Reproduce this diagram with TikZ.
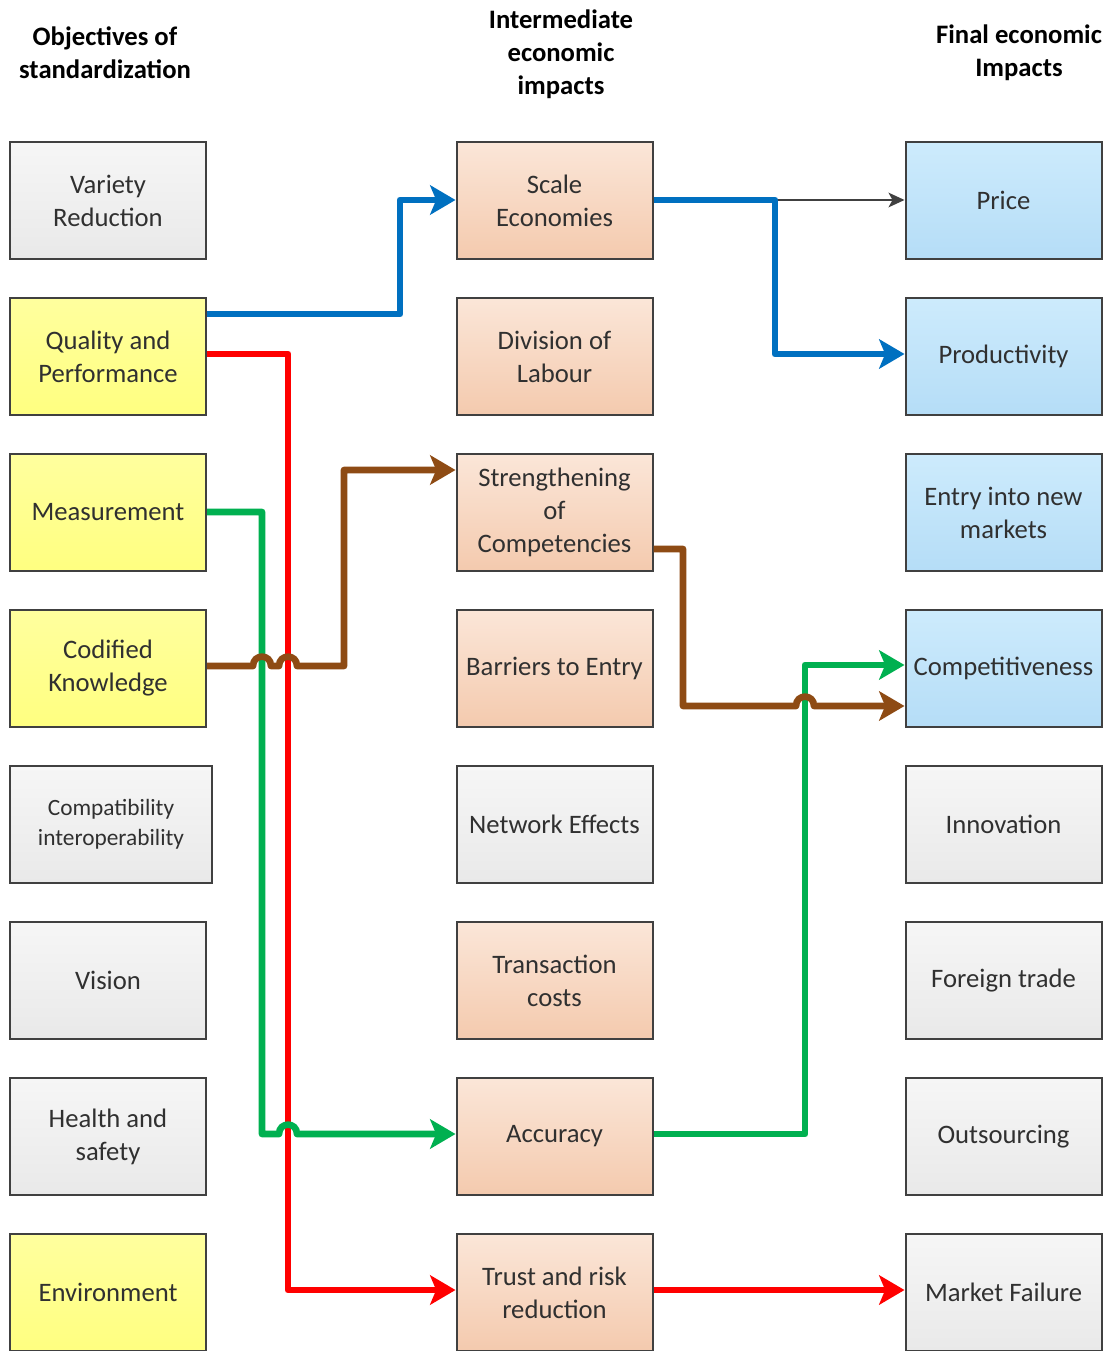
\documentclass[tikz,border=0pt]{standalone}
\usepackage{fontspec}
\setmainfont{Carlito}
\usetikzlibrary{arrows.meta,calc}
\definecolor{bord}{HTML}{404040}
\definecolor{txt}{HTML}{303030}
\definecolor{gtop}{HTML}{F6F6F6}
\definecolor{gbot}{HTML}{E9E9E9}
\definecolor{ytop}{HTML}{FFFF9E}
\definecolor{ybot}{HTML}{FFFF80}
\definecolor{ptop}{HTML}{FBE6D8}
\definecolor{pbot}{HTML}{F4CAAE}
\definecolor{btop}{HTML}{CDEBFC}
\definecolor{bbot}{HTML}{B5DDF7}
\definecolor{lblue}{HTML}{0070C0}
\definecolor{lred}{HTML}{FF0000}
\definecolor{lgreen}{HTML}{00B050}
\definecolor{lbrown}{HTML}{8E4B14}
\begin{document}
\begin{tikzpicture}[x=0.75pt,y=-0.75pt,
  box/.style={draw=bord, line width=1.5pt, minimum width=147pt, minimum height=87.75pt,
    inner sep=0pt, align=center, text=txt, font=\fontsize{20}{24.75}\selectfont},
  graybox/.style={box, top color=gtop, bottom color=gbot},
  yelbox/.style={box, top color=ytop, bottom color=ybot},
  peachbox/.style={box, top color=ptop, bottom color=pbot},
  bluebox/.style={box, top color=btop, bottom color=bbot},
  head/.style={align=center, text=black, font=\bfseries\fontsize{20}{24.75}\selectfont},
  conn/.style={line width=5pt, line join=round, -{Stealth[length=19pt, width=22pt, inset=4.5pt]}},
  connb/.style={conn, draw=lblue},
  connr/.style={conn, draw=lred},
  conng/.style={conn, draw=lgreen},
  connbr/.style={conn, draw=lbrown},
]
\useasboundingbox[fill=white] (0,0) rectangle (1117,1351);

% headers
\node[head] (h1) at (105,53) {Objectives of\\standardization};
\node[head] (h2) at (561,54) {Intermediate\\economic\\impacts};
\node[head] (h3) at (1019,53) {Final economic\\Impacts};

% left column
\node[graybox] (var)  at (108,200.5) {Variety\\Reduction};
\node[yelbox]  (qual) at (108,356.5) {Quality and\\Performance};
\node[yelbox]  (meas) at (108,512.5) {Measurement};
\node[yelbox]  (codk) at (108,668.5) {Codified\\Knowledge};
\node[graybox, minimum width=151.5pt, font=\fontsize{17.5}{22.5}\selectfont] (comp1) at (111,824.5) {Compatibility\\interoperability};
\node[graybox] (vis)  at (108,980.5) {Vision};
\node[graybox] (hs)   at (108,1136.5) {Health and\\safety};
\node[yelbox]  (env)  at (108,1292.5) {Environment};

% middle column
\node[peachbox] (scale)  at (554.5,200.5) {Scale\\Economies};
\node[peachbox] (div)    at (554.5,356.5) {Division of\\Labour};
\node[peachbox] (str)    at (554.5,512.5) {Strengthening\\of\\Competencies};
\node[peachbox] (bar)    at (554.5,668.5) {Barriers to Entry};
\node[graybox]  (net)    at (554.5,824.5) {Network Effects};
\node[peachbox] (trans)  at (554.5,980.5) {Transaction\\costs};
\node[peachbox] (acc)    at (554.5,1136.5) {Accuracy};
\node[peachbox] (trust)  at (554.5,1292.5) {Trust and risk\\reduction};

% right column
\node[bluebox] (price) at (1003.5,200.5) {Price};
\node[bluebox] (prod)  at (1003.5,356.5) {Productivity};
\node[bluebox] (entry) at (1003.5,512.5) {Entry into new\\markets};
\node[bluebox] (compt) at (1003.5,668.5) {Competitiveness};
\node[graybox] (innov) at (1003.5,824.5) {Innovation};
\node[graybox] (fore)  at (1003.5,980.5) {Foreign trade};
\node[graybox] (outs)  at (1003.5,1136.5) {Outsourcing};
\node[graybox] (mkt)   at (1003.5,1292.5) {Market Failure};

% connectors
\coordinate (split) at (775,200);
\draw[draw=bord, line width=1.3pt, -{Stealth[length=12pt, width=11pt, inset=3pt]}] (split) -- (price.west |- 0,200);
\draw[connb] (qual.east |- 0,314) -- (400,314) -- (400,200) -- (scale.west |- 0,200);
\draw[connb] (scale.east |- 0,200) -- (775,200) -- (775,354) -- (prod.west |- 0,354);

\draw[connr] (qual.east |- 0,354) -- (288,354) -- (288,1290) -- (trust.west |- 0,1290);
\draw[connr] (trust.east |- 0,1290) -- (mkt.west |- 0,1290);

\draw[conng] (meas.east |- 0,512) -- (262,512) -- (262,1134) -- (279,1134)
  .. controls (279,1121.5) and (297,1121.5) .. (297,1134) -- (acc.west |- 0,1134);
\draw[conng] (acc.east |- 0,1134) -- (805,1134) -- (805,665) -- (compt.west |- 0,665);

\draw[connbr] (codk.east |- 0,666) -- (253,666)
  .. controls (253,653.5) and (271,653.5) .. (271,666) -- (279,666)
  .. controls (279,653.5) and (297,653.5) .. (297,666) -- (344,666) -- (344,470) -- (str.west |- 0,470);
\draw[connbr] (str.east |- 0,549) -- (683,549) -- (683,706) -- (796,706)
  .. controls (796,693.5) and (814,693.5) .. (814,706) -- (compt.west |- 0,706);
\end{tikzpicture}
\end{document}
